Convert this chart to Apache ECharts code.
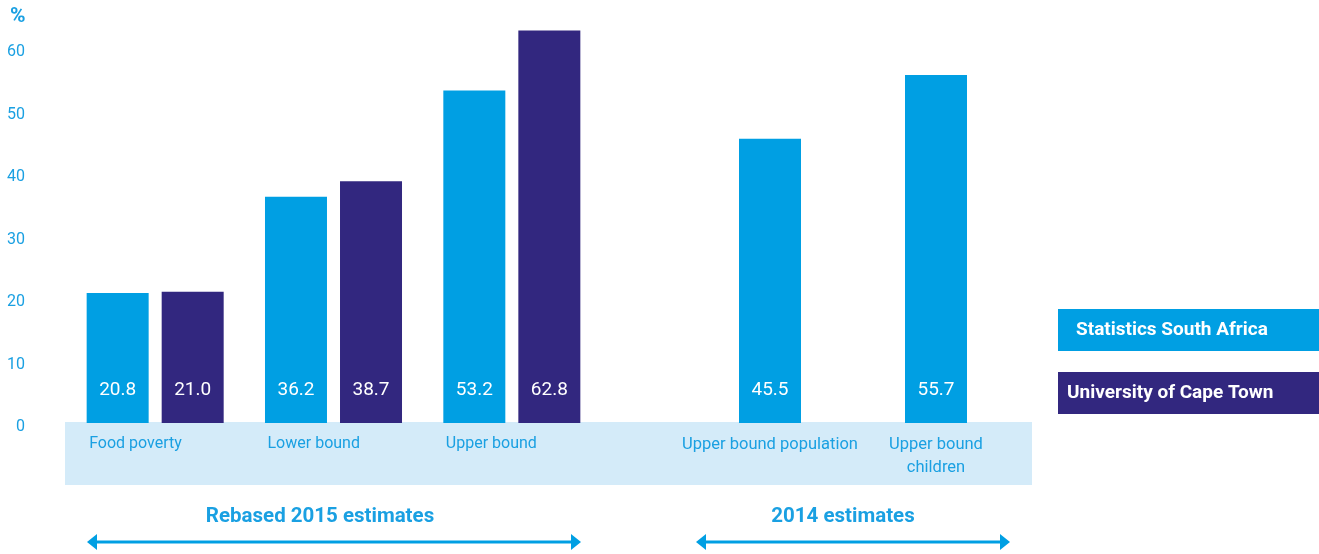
<!DOCTYPE html>
<html>
<head>
<meta charset="utf-8">
<title>Poverty estimates</title>
<script src="https://cdn.jsdelivr.net/npm/echarts@6/dist/echarts.min.js"></script>
<style>
	html, body { margin: 0; padding: 0; background: #fff; }
	#bar { width: 1319px; height: 554px; }
</style>
</head>
<body>
<div id="bar"></div>
<script>
// 数据
var rebasedCats = ['Food poverty', 'Lower bound', 'Upper bound'];
var cats2014 = ['Upper bound population', 'Upper bound\nchildren'];
var ssaRebased = [20.8, 36.2, 53.2]; // Statistics South Africa
var uctRebased = [21.0, 38.7, 62.8]; // University of Cape Town
var ssa2014 = [45.5, 55.7];
var seriesNames = ['Statistics South Africa', 'University of Cape Town'];
var groupTitles = ['Rebased 2015 estimates', '2014 estimates'];

var FONT = "Roboto, 'Liberation Sans', sans-serif";
var LIGHT = '#009fe3';
var DARK = '#32277f';
var TXT = '#1aa0e2';

var myChart = echarts.init(document.getElementById('bar'));

var barLabel = {
	show : true,
	position : 'insideBottom',
	distance : 23,
	color : '#fff',
	fontFamily : FONT,
	fontSize : 19,
	formatter : function(p) {
		return p.value.toFixed(1);
	}
};

var yCommon = {
	type : 'value',
	min : 0,
	max : 66,
	interval : 10,
	axisLine : { show : false },
	axisTick : { show : false },
	splitLine : { show : false }
};

// 双箭头
function arrow(x1, x2, y) {
	return {
		type : 'group',
		children : [ {
			type : 'line',
			shape : { x1 : x1 + 6, y1 : y, x2 : x2 - 6, y2 : y },
			style : { stroke : LIGHT, lineWidth : 3 }
		}, {
			type : 'polygon',
			shape : { points : [ [ x1, y ], [ x1 + 10, y - 8 ], [ x1 + 10, y + 8 ] ] },
			style : { fill : LIGHT }
		}, {
			type : 'polygon',
			shape : { points : [ [ x2, y ], [ x2 - 10, y - 8 ], [ x2 - 10, y + 8 ] ] },
			style : { fill : LIGHT }
		} ]
	};
}

var option = {
	animation : false,
	textStyle : { fontFamily : FONT },
	grid : [ {
		left : 66, width : 535, top : 10.5, bottom : 131
	}, {
		left : 687, width : 332, top : 10.5, bottom : 131
	} ],
	xAxis : [ {
		type : 'category',
		gridIndex : 0,
		data : rebasedCats,
		axisLine : { show : false },
		axisTick : { show : false },
		axisLabel : {
			color : TXT, fontSize : 16, fontFamily : FONT, margin : 13,
			interval : 0, align : 'left', padding : [ 0, 0, 0, -66 ]
		}
	}, {
		type : 'category',
		gridIndex : 1,
		data : cats2014,
		axisLine : { show : false },
		axisTick : { show : false },
		axisLabel : {
			color : TXT, fontSize : 16.5, fontFamily : FONT, margin : 10,
			interval : 0, lineHeight : 23
		}
	} ],
	yAxis : [ echarts.util.merge({
		gridIndex : 0,
		axisLabel : {
			color : TXT, fontSize : 16, fontFamily : FONT, margin : 41,
			verticalAlign : 'top', lineHeight : 16,
			padding : [ -4, 0, 0, 0 ], showMaxLabel : false
		}
	}, yCommon), echarts.util.merge({
		gridIndex : 1,
		axisLabel : { show : false }
	}, yCommon) ],
	series : [ {
		name : seriesNames[0],
		type : 'bar',
		xAxisIndex : 0,
		yAxisIndex : 0,
		barWidth : 62,
		barGap : '21%',
		data : ssaRebased,
		itemStyle : { color : LIGHT },
		label : barLabel
	}, {
		name : seriesNames[1],
		type : 'bar',
		xAxisIndex : 0,
		yAxisIndex : 0,
		barWidth : 62,
		barGap : '21%',
		data : uctRebased,
		itemStyle : { color : DARK },
		label : barLabel
	}, {
		name : seriesNames[0],
		type : 'bar',
		xAxisIndex : 1,
		yAxisIndex : 1,
		barWidth : 62,
		data : ssa2014,
		itemStyle : { color : LIGHT },
		label : barLabel
	} ],
	graphic : [
		// 类目底色
		{
			type : 'rect', z : -10,
			shape : { x : 65, y : 422, width : 967, height : 63 },
			style : { fill : '#d4ebf9' }
		},
		// %
		{
			type : 'text', left : 10, top : 6,
			style : { text : '%', fill : TXT, font : 'bold 21px ' + FONT }
		},
		// 图例
		{
			type : 'rect',
			shape : { x : 1058, y : 309, width : 261, height : 42 },
			style : { fill : LIGHT }
		}, {
			type : 'text', x : 1076, y : 330,
			style : { text : seriesNames[0], fill : '#fff', font : 'bold 19px ' + FONT, verticalAlign : 'middle' }
		}, {
			type : 'rect',
			shape : { x : 1058, y : 372, width : 261, height : 42 },
			style : { fill : DARK }
		}, {
			type : 'text', x : 1067, y : 393,
			style : { text : seriesNames[1], fill : '#fff', font : 'bold 19px ' + FONT, verticalAlign : 'middle' }
		},
		// 分组标题
		{
			type : 'text', x : 320, y : 517,
			style : { text : groupTitles[0], fill : TXT, font : 'bold 20.5px ' + FONT, align : 'center', verticalAlign : 'middle' }
		}, {
			type : 'text', x : 843, y : 517,
			style : { text : groupTitles[1], fill : TXT, font : 'bold 20.5px ' + FONT, align : 'center', verticalAlign : 'middle' }
		},
		arrow(87, 581, 542),
		arrow(696, 1010, 542)
	]
};

myChart.setOption(option);
</script>
</body>
</html>
